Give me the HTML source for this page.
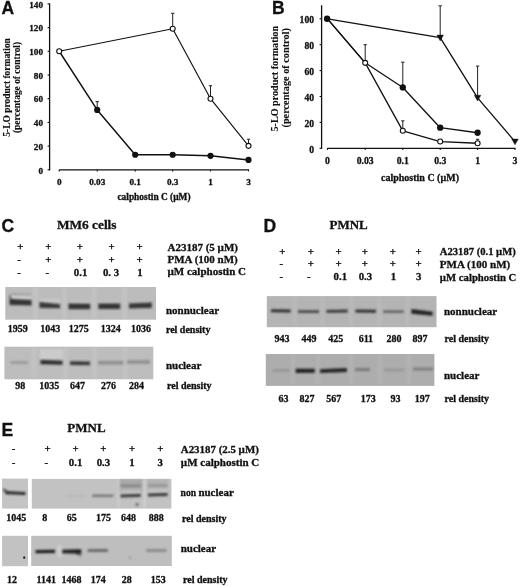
<!DOCTYPE html>
<html><head><meta charset="utf-8"><style>html,body{margin:0;padding:0;background:#fff;width:520px;height:586px;overflow:hidden}svg{display:block;will-change:transform;filter:blur(0.3px)}text{fill:#111;stroke:#111;stroke-width:0.3px}</style></head>
<body><svg width="520" height="586" viewBox="0 0 520 586"><defs><filter id="b5" x="-30%" y="-100%" width="160%" height="300%"><feGaussianBlur stdDeviation="0.5"/></filter><filter id="b6" x="-30%" y="-100%" width="160%" height="300%"><feGaussianBlur stdDeviation="0.6"/></filter><filter id="b7" x="-30%" y="-100%" width="160%" height="300%"><feGaussianBlur stdDeviation="0.7"/></filter><filter id="b8" x="-30%" y="-100%" width="160%" height="300%"><feGaussianBlur stdDeviation="0.8"/></filter><filter id="b9" x="-30%" y="-100%" width="160%" height="300%"><feGaussianBlur stdDeviation="0.9"/></filter><filter id="b10" x="-30%" y="-100%" width="160%" height="300%"><feGaussianBlur stdDeviation="1.0"/></filter><filter id="b12" x="-30%" y="-100%" width="160%" height="300%"><feGaussianBlur stdDeviation="1.2"/></filter><filter id="b15" x="-30%" y="-100%" width="160%" height="300%"><feGaussianBlur stdDeviation="1.5"/></filter><filter id="b20" x="-30%" y="-100%" width="160%" height="300%"><feGaussianBlur stdDeviation="2.0"/></filter></defs><rect width="520" height="586" fill="#fff"/><text x="1.5" y="13.8" font-size="17.5" text-anchor="start" font-family='"Liberation Sans", sans-serif' font-weight="bold" >A</text>
<line x1="49.6" y1="3.5" x2="49.6" y2="170.4" stroke="#111" stroke-width="1.3"/>
<line x1="47.6" y1="169.8" x2="49.6" y2="169.8" stroke="#111" stroke-width="1.1"/>
<text x="43" y="173.60000000000002" font-size="9.2" text-anchor="end" font-family='"Liberation Serif", serif' font-weight="bold" >0</text>
<line x1="47.6" y1="146.09285714285716" x2="49.6" y2="146.09285714285716" stroke="#111" stroke-width="1.1"/>
<text x="43" y="149.89285714285717" font-size="9.2" text-anchor="end" font-family='"Liberation Serif", serif' font-weight="bold" >20</text>
<line x1="47.6" y1="122.3857142857143" x2="49.6" y2="122.3857142857143" stroke="#111" stroke-width="1.1"/>
<text x="43" y="126.1857142857143" font-size="9.2" text-anchor="end" font-family='"Liberation Serif", serif' font-weight="bold" >40</text>
<line x1="47.6" y1="98.67857142857143" x2="49.6" y2="98.67857142857143" stroke="#111" stroke-width="1.1"/>
<text x="43" y="102.47857142857143" font-size="9.2" text-anchor="end" font-family='"Liberation Serif", serif' font-weight="bold" >60</text>
<line x1="47.6" y1="74.97142857142858" x2="49.6" y2="74.97142857142858" stroke="#111" stroke-width="1.1"/>
<text x="43" y="78.77142857142857" font-size="9.2" text-anchor="end" font-family='"Liberation Serif", serif' font-weight="bold" >80</text>
<line x1="47.6" y1="51.264285714285705" x2="49.6" y2="51.264285714285705" stroke="#111" stroke-width="1.1"/>
<text x="43" y="55.0642857142857" font-size="9.2" text-anchor="end" font-family='"Liberation Serif", serif' font-weight="bold" >100</text>
<line x1="47.6" y1="27.55714285714285" x2="49.6" y2="27.55714285714285" stroke="#111" stroke-width="1.1"/>
<text x="43" y="31.35714285714285" font-size="9.2" text-anchor="end" font-family='"Liberation Serif", serif' font-weight="bold" >120</text>
<line x1="47.6" y1="3.8499999999999943" x2="49.6" y2="3.8499999999999943" stroke="#111" stroke-width="1.1"/>
<text x="43" y="7.649999999999994" font-size="9.2" text-anchor="end" font-family='"Liberation Serif", serif' font-weight="bold" >140</text>
<line x1="59.2" y1="169.8" x2="249" y2="169.8" stroke="#111" stroke-width="1.3"/>
<line x1="59.2" y1="169.8" x2="59.2" y2="171.4" stroke="#111" stroke-width="1.1"/>
<text x="59.2" y="185" font-size="9.2" text-anchor="middle" font-family='"Liberation Serif", serif' font-weight="bold" >0</text>
<line x1="97.2" y1="169.8" x2="97.2" y2="171.4" stroke="#111" stroke-width="1.1"/>
<text x="97.2" y="185" font-size="9.2" text-anchor="middle" font-family='"Liberation Serif", serif' font-weight="bold" >0.03</text>
<line x1="135.2" y1="169.8" x2="135.2" y2="171.4" stroke="#111" stroke-width="1.1"/>
<text x="135.2" y="185" font-size="9.2" text-anchor="middle" font-family='"Liberation Serif", serif' font-weight="bold" >0.1</text>
<line x1="172.7" y1="169.8" x2="172.7" y2="171.4" stroke="#111" stroke-width="1.1"/>
<text x="172.7" y="185" font-size="9.2" text-anchor="middle" font-family='"Liberation Serif", serif' font-weight="bold" >0.3</text>
<line x1="210.5" y1="169.8" x2="210.5" y2="171.4" stroke="#111" stroke-width="1.1"/>
<text x="210.5" y="185" font-size="9.2" text-anchor="middle" font-family='"Liberation Serif", serif' font-weight="bold" >1</text>
<line x1="248.5" y1="169.8" x2="248.5" y2="171.4" stroke="#111" stroke-width="1.1"/>
<text x="248.5" y="185" font-size="9.2" text-anchor="middle" font-family='"Liberation Serif", serif' font-weight="bold" >3</text>
<text x="154" y="200.3" font-size="9.4" text-anchor="middle" font-family='"Liberation Serif", serif' font-weight="bold" >calphostin C (µM)</text>
<text x="0" y="0" font-size="9.46" text-anchor="middle" font-family='"Liberation Serif", serif' font-weight="bold" style="stroke-width:0.12px" transform="translate(10.2,87.4) rotate(-90)">5-LO product formation</text>
<text x="0" y="0" font-size="9.44" text-anchor="middle" font-family='"Liberation Serif", serif' font-weight="bold" style="stroke-width:0.12px" transform="translate(20.2,87.5) rotate(-90)">(percentage of control)</text>
<line x1="172.7" y1="28.742500000000007" x2="172.7" y2="13.3" stroke="#222" stroke-width="1.0"/>
<line x1="171.0" y1="13.3" x2="174.39999999999998" y2="13.3" stroke="#222" stroke-width="1.0"/>
<line x1="210.5" y1="98.67857142857143" x2="210.5" y2="85.75817857142857" stroke="#222" stroke-width="1.0"/>
<line x1="208.8" y1="85.75817857142857" x2="212.2" y2="85.75817857142857" stroke="#222" stroke-width="1.0"/>
<line x1="248.5" y1="145.85578571428573" x2="248.5" y2="139.21778571428572" stroke="#222" stroke-width="1.0"/>
<line x1="246.8" y1="139.21778571428572" x2="250.2" y2="139.21778571428572" stroke="#222" stroke-width="1.0"/>
<line x1="97.2" y1="109.34678571428572" x2="97.2" y2="101.6419642857143" stroke="#222" stroke-width="1.0"/>
<line x1="95.5" y1="101.6419642857143" x2="98.9" y2="101.6419642857143" stroke="#222" stroke-width="1.0"/>
<polyline points="59.20,51.26 172.70,28.74 210.50,98.68 248.50,145.86" fill="none" stroke="#111" stroke-width="1.15" stroke-linejoin="round"/>
<polyline points="59.20,51.26 97.20,109.94 135.20,154.75 172.70,154.75 210.50,155.81 248.50,159.96" fill="none" stroke="#111" stroke-width="1.45" stroke-linejoin="round"/>
<circle cx="97.20" cy="109.94" r="3.1" fill="#111"/>
<circle cx="135.20" cy="154.75" r="3.1" fill="#111"/>
<circle cx="172.70" cy="154.75" r="3.1" fill="#111"/>
<circle cx="210.50" cy="155.81" r="3.1" fill="#111"/>
<circle cx="248.50" cy="159.96" r="3.1" fill="#111"/>
<circle cx="59.20" cy="51.26" r="2.5" fill="#fff" stroke="#111" stroke-width="1.1"/>
<circle cx="172.70" cy="28.74" r="2.5" fill="#fff" stroke="#111" stroke-width="1.1"/>
<circle cx="210.50" cy="98.68" r="2.5" fill="#fff" stroke="#111" stroke-width="1.1"/>
<circle cx="248.50" cy="145.86" r="2.5" fill="#fff" stroke="#111" stroke-width="1.1"/>
<text x="272.1" y="13.8" font-size="17.5" text-anchor="start" font-family='"Liberation Sans", sans-serif' font-weight="bold" >B</text>
<line x1="321.6" y1="5.2" x2="321.6" y2="148.9" stroke="#111" stroke-width="1.3"/>
<line x1="319.6" y1="148.3" x2="321.6" y2="148.3" stroke="#111" stroke-width="1.1"/>
<text x="314" y="152.5" font-size="9.6" text-anchor="end" font-family='"Liberation Serif", serif' font-weight="bold" >0</text>
<line x1="319.6" y1="122.4" x2="321.6" y2="122.4" stroke="#111" stroke-width="1.1"/>
<text x="314" y="126.60000000000001" font-size="9.6" text-anchor="end" font-family='"Liberation Serif", serif' font-weight="bold" >20</text>
<line x1="319.6" y1="96.50000000000001" x2="321.6" y2="96.50000000000001" stroke="#111" stroke-width="1.1"/>
<text x="314" y="100.70000000000002" font-size="9.6" text-anchor="end" font-family='"Liberation Serif", serif' font-weight="bold" >40</text>
<line x1="319.6" y1="70.60000000000002" x2="321.6" y2="70.60000000000002" stroke="#111" stroke-width="1.1"/>
<text x="314" y="74.80000000000003" font-size="9.6" text-anchor="end" font-family='"Liberation Serif", serif' font-weight="bold" >60</text>
<line x1="319.6" y1="44.70000000000002" x2="321.6" y2="44.70000000000002" stroke="#111" stroke-width="1.1"/>
<text x="314" y="48.90000000000002" font-size="9.6" text-anchor="end" font-family='"Liberation Serif", serif' font-weight="bold" >80</text>
<line x1="319.6" y1="18.80000000000001" x2="321.6" y2="18.80000000000001" stroke="#111" stroke-width="1.1"/>
<text x="314" y="23.00000000000001" font-size="9.6" text-anchor="end" font-family='"Liberation Serif", serif' font-weight="bold" >100</text>
<line x1="327.2" y1="148.3" x2="515.5" y2="148.3" stroke="#111" stroke-width="1.3"/>
<line x1="327.5" y1="148.3" x2="327.5" y2="149.9" stroke="#111" stroke-width="1.1"/>
<text x="327.5" y="164.4" font-size="9.7" text-anchor="middle" font-family='"Liberation Serif", serif' font-weight="bold" >0</text>
<line x1="365.2" y1="148.3" x2="365.2" y2="149.9" stroke="#111" stroke-width="1.1"/>
<text x="365.2" y="164.4" font-size="9.7" text-anchor="middle" font-family='"Liberation Serif", serif' font-weight="bold" >0.03</text>
<line x1="402.8" y1="148.3" x2="402.8" y2="149.9" stroke="#111" stroke-width="1.1"/>
<text x="402.8" y="164.4" font-size="9.7" text-anchor="middle" font-family='"Liberation Serif", serif' font-weight="bold" >0.1</text>
<line x1="440.2" y1="148.3" x2="440.2" y2="149.9" stroke="#111" stroke-width="1.1"/>
<text x="440.2" y="164.4" font-size="9.7" text-anchor="middle" font-family='"Liberation Serif", serif' font-weight="bold" >0.3</text>
<line x1="477.6" y1="148.3" x2="477.6" y2="149.9" stroke="#111" stroke-width="1.1"/>
<text x="477.6" y="164.4" font-size="9.7" text-anchor="middle" font-family='"Liberation Serif", serif' font-weight="bold" >1</text>
<line x1="515" y1="148.3" x2="515" y2="149.9" stroke="#111" stroke-width="1.1"/>
<text x="515" y="164.4" font-size="9.7" text-anchor="middle" font-family='"Liberation Serif", serif' font-weight="bold" >3</text>
<text x="420" y="181" font-size="10" text-anchor="middle" font-family='"Liberation Serif", serif' font-weight="bold" >calphostin C (µM)</text>
<text x="0" y="0" font-size="10.13" text-anchor="middle" font-family='"Liberation Serif", serif' font-weight="bold" style="stroke-width:0.12px" transform="translate(277.7,78.75) rotate(-90)">5-LO product formation</text>
<text x="0" y="0" font-size="10.27" text-anchor="middle" font-family='"Liberation Serif", serif' font-weight="bold" style="stroke-width:0.12px" transform="translate(289.3,77.8) rotate(-90)">(percentage of control)</text>
<line x1="440.2" y1="37.577500000000015" x2="440.2" y2="5.850000000000023" stroke="#222" stroke-width="1.0"/>
<line x1="438.5" y1="5.850000000000023" x2="441.9" y2="5.850000000000023" stroke="#222" stroke-width="1.0"/>
<line x1="477.6" y1="97.79500000000002" x2="477.6" y2="66.06750000000001" stroke="#222" stroke-width="1.0"/>
<line x1="475.90000000000003" y1="66.06750000000001" x2="479.3" y2="66.06750000000001" stroke="#222" stroke-width="1.0"/>
<line x1="402.8" y1="87.43500000000002" x2="402.8" y2="62.18250000000002" stroke="#222" stroke-width="1.0"/>
<line x1="401.1" y1="62.18250000000002" x2="404.5" y2="62.18250000000002" stroke="#222" stroke-width="1.0"/>
<line x1="365.2" y1="62.83000000000001" x2="365.2" y2="44.70000000000002" stroke="#222" stroke-width="1.0"/>
<line x1="363.5" y1="44.70000000000002" x2="366.9" y2="44.70000000000002" stroke="#222" stroke-width="1.0"/>
<line x1="402.8" y1="130.81750000000002" x2="402.8" y2="120.84600000000002" stroke="#222" stroke-width="1.0"/>
<line x1="401.1" y1="120.84600000000002" x2="404.5" y2="120.84600000000002" stroke="#222" stroke-width="1.0"/>
<line x1="477.6" y1="143.2495" x2="477.6" y2="139.235" stroke="#222" stroke-width="1.0"/>
<line x1="475.90000000000003" y1="139.235" x2="479.3" y2="139.235" stroke="#222" stroke-width="1.0"/>
<polyline points="327.50,18.80 440.20,37.58 477.60,97.80 515.00,141.57" fill="none" stroke="#111" stroke-width="1.3" stroke-linejoin="round"/>
<polyline points="327.50,18.80 365.20,62.83 402.80,87.44 440.20,127.71 477.60,132.76" fill="none" stroke="#111" stroke-width="1.3" stroke-linejoin="round"/>
<polyline points="327.50,18.80 365.20,62.83 402.80,130.82 440.20,141.57 477.60,143.25" fill="none" stroke="#111" stroke-width="1.3" stroke-linejoin="round"/>
<polygon points="436.90,35.08 443.50,35.08 440.20,40.88" fill="#111" stroke="#111" stroke-width="0.4" stroke-linejoin="round"/>
<polygon points="474.30,95.30 480.90,95.30 477.60,101.10" fill="#111" stroke="#111" stroke-width="0.4" stroke-linejoin="round"/>
<polygon points="511.70,139.07 518.30,139.07 515.00,144.87" fill="#111" stroke="#111" stroke-width="0.4" stroke-linejoin="round"/>
<circle cx="402.80" cy="87.44" r="3.15" fill="#111"/>
<circle cx="440.20" cy="127.71" r="3.15" fill="#111"/>
<circle cx="477.60" cy="132.76" r="3.15" fill="#111"/>
<circle cx="327.10" cy="18.80" r="3.2" fill="#111"/>
<circle cx="365.20" cy="62.83" r="2.5" fill="#fff" stroke="#111" stroke-width="1.1"/>
<circle cx="402.80" cy="130.82" r="2.5" fill="#fff" stroke="#111" stroke-width="1.1"/>
<circle cx="440.20" cy="141.57" r="2.5" fill="#fff" stroke="#111" stroke-width="1.1"/>
<circle cx="477.60" cy="143.25" r="2.5" fill="#fff" stroke="#111" stroke-width="1.1"/>
<text x="1.5" y="231.5" font-size="17.5" text-anchor="start" font-family='"Liberation Sans", sans-serif' font-weight="bold" >C</text>
<text x="56.9" y="229.4" font-size="13.2" text-anchor="start" font-family='"Liberation Serif", serif' font-weight="bold" textLength="59.6" lengthAdjust="spacingAndGlyphs">MM6 cells</text>
<text x="20.3" y="250.3" font-size="10.8" text-anchor="middle" font-family='"Liberation Serif", serif' font-weight="bold" >+</text>
<text x="48.4" y="250.3" font-size="10.8" text-anchor="middle" font-family='"Liberation Serif", serif' font-weight="bold" >+</text>
<text x="79.8" y="250.3" font-size="10.8" text-anchor="middle" font-family='"Liberation Serif", serif' font-weight="bold" >+</text>
<text x="111.5" y="250.3" font-size="10.8" text-anchor="middle" font-family='"Liberation Serif", serif' font-weight="bold" >+</text>
<text x="139.7" y="250.3" font-size="10.8" text-anchor="middle" font-family='"Liberation Serif", serif' font-weight="bold" >+</text>
<text x="19.1" y="263" font-size="10.8" text-anchor="middle" font-family='"Liberation Serif", serif' font-weight="bold" >-</text>
<text x="48.4" y="263" font-size="10.8" text-anchor="middle" font-family='"Liberation Serif", serif' font-weight="bold" >+</text>
<text x="79.8" y="263" font-size="10.8" text-anchor="middle" font-family='"Liberation Serif", serif' font-weight="bold" >+</text>
<text x="111.5" y="263" font-size="10.8" text-anchor="middle" font-family='"Liberation Serif", serif' font-weight="bold" >+</text>
<text x="139.7" y="263" font-size="10.8" text-anchor="middle" font-family='"Liberation Serif", serif' font-weight="bold" >+</text>
<text x="19.1" y="275.8" font-size="10.8" text-anchor="middle" font-family='"Liberation Serif", serif' font-weight="bold" >-</text>
<text x="47.199999999999996" y="275.8" font-size="10.8" text-anchor="middle" font-family='"Liberation Serif", serif' font-weight="bold" >-</text>
<text x="80.6" y="275.8" font-size="10.8" text-anchor="middle" font-family='"Liberation Serif", serif' font-weight="bold" >0.1</text>
<text x="111" y="275.8" font-size="10.8" text-anchor="middle" font-family='"Liberation Serif", serif' font-weight="bold" >0. 3</text>
<text x="140" y="275.8" font-size="10.8" text-anchor="middle" font-family='"Liberation Serif", serif' font-weight="bold" >1</text>
<text x="167.5" y="251.3" font-size="11" text-anchor="start" font-family='"Liberation Serif", serif' font-weight="bold" >A23187 (5 µM)</text>
<text x="167.5" y="262.6" font-size="11" text-anchor="start" font-family='"Liberation Serif", serif' font-weight="bold" >PMA (100 nM)</text>
<text x="167.5" y="275" font-size="11" text-anchor="start" font-family='"Liberation Serif", serif' font-weight="bold" >µM calphostin C</text>
<rect x="5.3" y="287.0" width="150.7" height="32.7" fill="#bcbcbc"/>
<rect x="33.50" y="287.00" width="4.00" height="32.00" fill="#fff" opacity="0.12" filter="url(#b15)"/>
<rect x="62.50" y="287.00" width="4.00" height="32.00" fill="#fff" opacity="0.12" filter="url(#b15)"/>
<rect x="92.00" y="287.00" width="4.00" height="32.00" fill="#fff" opacity="0.12" filter="url(#b15)"/>
<rect x="122.50" y="287.00" width="4.00" height="32.00" fill="#fff" opacity="0.12" filter="url(#b15)"/>
<rect x="11.00" y="295.50" width="20.00" height="3.50" fill="#fff" opacity="0.25" filter="url(#b8)"/>
<rect x="40.00" y="299.00" width="20.00" height="3.50" fill="#fff" opacity="0.2" filter="url(#b8)"/>
<rect x="69.00" y="301.00" width="21.00" height="3.00" fill="#fff" opacity="0.12" filter="url(#b8)"/>
<rect x="99.00" y="301.00" width="21.00" height="3.00" fill="#fff" opacity="0.1" filter="url(#b8)"/>
<polygon points="11.00,293.60 31.00,294.30 31.00,295.30 11.00,294.80" fill="#1c1c1c" opacity="0.3" filter="url(#b8)"/>
<polygon points="9.50,298.90 31.50,300.00 31.50,305.60 9.50,305.10" fill="#202020" opacity="0.88" filter="url(#b8)"/>
<polygon points="9.00,294.50 11.50,298.25 11.50,300.75 9.00,296.50" fill="#1c1c1c" opacity="0.75" filter="url(#b8)"/>
<polygon points="39.50,301.90 60.00,304.30 60.00,308.30 39.50,308.10" fill="#202020" opacity="0.85" filter="url(#b8)"/>
<polygon points="68.50,303.50 90.20,303.70 90.20,309.30 68.50,309.30" fill="#202020" opacity="0.88" filter="url(#b8)"/>
<polygon points="98.40,303.40 120.20,303.60 120.20,309.00 98.40,309.00" fill="#202020" opacity="0.88" filter="url(#b8)"/>
<polygon points="129.00,303.40 151.80,302.40 151.80,308.00 129.00,308.60" fill="#202020" opacity="0.86" filter="url(#b8)"/>
<text x="165.9" y="313.6" font-size="11" text-anchor="start" font-family='"Liberation Serif", serif' font-weight="bold" >nonnuclear</text>
<text x="17.7" y="332.3" font-size="10" text-anchor="middle" font-family='"Liberation Serif", serif' font-weight="bold" >1959</text>
<text x="50.2" y="332.3" font-size="10" text-anchor="middle" font-family='"Liberation Serif", serif' font-weight="bold" >1043</text>
<text x="78.7" y="332.3" font-size="10" text-anchor="middle" font-family='"Liberation Serif", serif' font-weight="bold" >1275</text>
<text x="110.8" y="332.3" font-size="10" text-anchor="middle" font-family='"Liberation Serif", serif' font-weight="bold" >1324</text>
<text x="141" y="332.3" font-size="10" text-anchor="middle" font-family='"Liberation Serif", serif' font-weight="bold" >1036</text>
<text x="165.9" y="332.6" font-size="10" text-anchor="start" font-family='"Liberation Serif", serif' font-weight="bold" >rel density</text>
<rect x="4.4" y="346.7" width="148.9" height="32.6" fill="#bdbdbd"/>
<rect x="32.00" y="347.00" width="4.00" height="32.00" fill="#fff" opacity="0.1" filter="url(#b15)"/>
<rect x="63.50" y="347.00" width="4.00" height="32.00" fill="#fff" opacity="0.1" filter="url(#b15)"/>
<rect x="92.50" y="347.00" width="4.00" height="32.00" fill="#fff" opacity="0.1" filter="url(#b15)"/>
<rect x="123.00" y="347.00" width="4.00" height="32.00" fill="#fff" opacity="0.1" filter="url(#b15)"/>
<rect x="40.00" y="349.00" width="23.00" height="10.00" fill="#fff" opacity="0.22" filter="url(#b12)"/>
<polygon points="10.50,361.00 28.00,361.00 28.00,364.00 10.50,364.00" fill="#1c1c1c" opacity="0.2" filter="url(#b12)"/>
<polygon points="40.50,360.10 62.50,360.80 62.50,364.80 40.50,364.30" fill="#202020" opacity="0.92" filter="url(#b8)"/>
<polygon points="70.00,361.30 90.00,361.60 90.00,365.20 70.00,365.10" fill="#202020" opacity="0.85" filter="url(#b8)"/>
<polygon points="98.00,360.90 123.50,360.90 123.50,364.50 98.00,364.50" fill="#1c1c1c" opacity="0.28" filter="url(#b12)"/>
<polygon points="127.00,360.20 150.00,360.20 150.00,363.80 127.00,363.80" fill="#1c1c1c" opacity="0.28" filter="url(#b12)"/>
<text x="165.9" y="369.2" font-size="11" text-anchor="start" font-family='"Liberation Serif", serif' font-weight="bold" >nuclear</text>
<text x="20.2" y="388.6" font-size="10" text-anchor="middle" font-family='"Liberation Serif", serif' font-weight="bold" >98</text>
<text x="49.3" y="388.6" font-size="10" text-anchor="middle" font-family='"Liberation Serif", serif' font-weight="bold" >1035</text>
<text x="77.4" y="388.6" font-size="10" text-anchor="middle" font-family='"Liberation Serif", serif' font-weight="bold" >647</text>
<text x="108.6" y="388.6" font-size="10" text-anchor="middle" font-family='"Liberation Serif", serif' font-weight="bold" >276</text>
<text x="136.5" y="388.6" font-size="10" text-anchor="middle" font-family='"Liberation Serif", serif' font-weight="bold" >284</text>
<text x="167" y="388.6" font-size="10" text-anchor="start" font-family='"Liberation Serif", serif' font-weight="bold" >rel density</text>
<text x="263.5" y="231.5" font-size="17.5" text-anchor="start" font-family='"Liberation Sans", sans-serif' font-weight="bold" >D</text>
<text x="348.6" y="229.2" font-size="13" text-anchor="middle" font-family='"Liberation Serif", serif' font-weight="bold" >PMNL</text>
<text x="282.4" y="254.5" font-size="10.8" text-anchor="middle" font-family='"Liberation Serif", serif' font-weight="bold" >+</text>
<text x="310.9" y="254.5" font-size="10.8" text-anchor="middle" font-family='"Liberation Serif", serif' font-weight="bold" >+</text>
<text x="338.6" y="254.5" font-size="10.8" text-anchor="middle" font-family='"Liberation Serif", serif' font-weight="bold" >+</text>
<text x="364.8" y="254.5" font-size="10.8" text-anchor="middle" font-family='"Liberation Serif", serif' font-weight="bold" >+</text>
<text x="392.9" y="254.5" font-size="10.8" text-anchor="middle" font-family='"Liberation Serif", serif' font-weight="bold" >+</text>
<text x="418.7" y="254.5" font-size="10.8" text-anchor="middle" font-family='"Liberation Serif", serif' font-weight="bold" >+</text>
<text x="281.2" y="266.8" font-size="10.8" text-anchor="middle" font-family='"Liberation Serif", serif' font-weight="bold" >-</text>
<text x="310.9" y="266.8" font-size="10.8" text-anchor="middle" font-family='"Liberation Serif", serif' font-weight="bold" >+</text>
<text x="338.6" y="266.8" font-size="10.8" text-anchor="middle" font-family='"Liberation Serif", serif' font-weight="bold" >+</text>
<text x="364.8" y="266.8" font-size="10.8" text-anchor="middle" font-family='"Liberation Serif", serif' font-weight="bold" >+</text>
<text x="392.9" y="266.8" font-size="10.8" text-anchor="middle" font-family='"Liberation Serif", serif' font-weight="bold" >+</text>
<text x="418.7" y="266.8" font-size="10.8" text-anchor="middle" font-family='"Liberation Serif", serif' font-weight="bold" >+</text>
<text x="281.2" y="279.9" font-size="10.8" text-anchor="middle" font-family='"Liberation Serif", serif' font-weight="bold" >-</text>
<text x="308.7" y="279.9" font-size="10.8" text-anchor="middle" font-family='"Liberation Serif", serif' font-weight="bold" >-</text>
<text x="340.3" y="279.9" font-size="10.8" text-anchor="middle" font-family='"Liberation Serif", serif' font-weight="bold" >0.1</text>
<text x="365.4" y="279.9" font-size="10.8" text-anchor="middle" font-family='"Liberation Serif", serif' font-weight="bold" >0.3</text>
<text x="393.5" y="279.9" font-size="10.8" text-anchor="middle" font-family='"Liberation Serif", serif' font-weight="bold" >1</text>
<text x="418.7" y="279.9" font-size="10.8" text-anchor="middle" font-family='"Liberation Serif", serif' font-weight="bold" >3</text>
<text x="439.8" y="254.5" font-size="11" text-anchor="start" font-family='"Liberation Serif", serif' font-weight="bold" textLength="76" lengthAdjust="spacingAndGlyphs">A23187 (0.1 µM)</text>
<text x="439.8" y="267.8" font-size="11" text-anchor="start" font-family='"Liberation Serif", serif' font-weight="bold" textLength="70.5" lengthAdjust="spacingAndGlyphs">PMA (100 nM)</text>
<text x="439.8" y="280.8" font-size="11" text-anchor="start" font-family='"Liberation Serif", serif' font-weight="bold" textLength="76.5" lengthAdjust="spacingAndGlyphs">µM calphostin C</text>
<rect x="266.8" y="296.1" width="169.7" height="31.1" fill="#b4b4b4"/>
<rect x="292.50" y="296.50" width="4.00" height="30.00" fill="#fff" opacity="0.08" filter="url(#b15)"/>
<rect x="320.50" y="296.50" width="4.00" height="30.00" fill="#fff" opacity="0.08" filter="url(#b15)"/>
<rect x="349.00" y="296.50" width="4.00" height="30.00" fill="#fff" opacity="0.08" filter="url(#b15)"/>
<rect x="377.50" y="296.50" width="4.00" height="30.00" fill="#fff" opacity="0.08" filter="url(#b15)"/>
<rect x="405.50" y="296.50" width="4.00" height="30.00" fill="#fff" opacity="0.08" filter="url(#b15)"/>
<polygon points="271.00,309.15 290.50,309.55 290.50,312.45 271.00,312.25" fill="#202020" opacity="0.9" filter="url(#b8)"/>
<polygon points="298.00,310.35 319.00,310.35 319.00,312.85 298.00,312.85" fill="#202020" opacity="0.8" filter="url(#b8)"/>
<polygon points="326.40,310.10 347.60,309.60 347.60,312.40 326.40,312.70" fill="#202020" opacity="0.85" filter="url(#b8)"/>
<polygon points="355.50,309.45 376.00,309.65 376.00,312.75 355.50,312.55" fill="#202020" opacity="0.9" filter="url(#b8)"/>
<polygon points="383.20,310.50 403.60,310.50 403.60,312.70 383.20,312.70" fill="#202020" opacity="0.65" filter="url(#b8)"/>
<polygon points="411.40,309.10 432.70,311.80 432.70,315.80 411.40,313.70" fill="#1c1c1c" opacity="0.95" filter="url(#b8)"/>
<text x="444" y="315" font-size="11" text-anchor="start" font-family='"Liberation Serif", serif' font-weight="bold" >nonnuclear</text>
<text x="282" y="342.2" font-size="10" text-anchor="middle" font-family='"Liberation Serif", serif' font-weight="bold" >943</text>
<text x="309" y="342.2" font-size="10" text-anchor="middle" font-family='"Liberation Serif", serif' font-weight="bold" >449</text>
<text x="335.7" y="342.2" font-size="10" text-anchor="middle" font-family='"Liberation Serif", serif' font-weight="bold" >425</text>
<text x="365.9" y="342.2" font-size="10" text-anchor="middle" font-family='"Liberation Serif", serif' font-weight="bold" >611</text>
<text x="394" y="342.2" font-size="10" text-anchor="middle" font-family='"Liberation Serif", serif' font-weight="bold" >280</text>
<text x="420" y="342.2" font-size="10" text-anchor="middle" font-family='"Liberation Serif", serif' font-weight="bold" >897</text>
<text x="444.5" y="342.3" font-size="10" text-anchor="start" font-family='"Liberation Serif", serif' font-weight="bold" >rel density</text>
<rect x="265.8" y="354.0" width="168.6" height="31.9" fill="#adadad"/>
<rect x="291.00" y="354.50" width="4.00" height="30.00" fill="#fff" opacity="0.08" filter="url(#b15)"/>
<rect x="316.00" y="354.50" width="4.00" height="30.00" fill="#fff" opacity="0.08" filter="url(#b15)"/>
<rect x="349.00" y="354.50" width="4.00" height="30.00" fill="#fff" opacity="0.08" filter="url(#b15)"/>
<rect x="378.00" y="354.50" width="4.00" height="30.00" fill="#fff" opacity="0.08" filter="url(#b15)"/>
<rect x="407.00" y="354.50" width="4.00" height="30.00" fill="#fff" opacity="0.08" filter="url(#b15)"/>
<polygon points="272.40,369.10 289.70,369.10 289.70,371.90 272.40,371.90" fill="#1c1c1c" opacity="0.15" filter="url(#b12)"/>
<polygon points="295.70,368.70 314.80,368.80 314.80,372.80 295.70,372.90" fill="#1c1c1c" opacity="0.97" filter="url(#b8)"/>
<polygon points="320.00,369.30 346.80,367.90 346.80,371.90 320.00,373.10" fill="#1c1c1c" opacity="0.95" filter="url(#b8)"/>
<polygon points="355.20,368.10 370.00,368.10 370.00,371.10 355.20,371.10" fill="#1c1c1c" opacity="0.35" filter="url(#b12)"/>
<polygon points="384.00,368.70 404.00,368.70 404.00,371.30 384.00,371.30" fill="#1c1c1c" opacity="0.15" filter="url(#b12)"/>
<polygon points="413.00,367.60 433.00,367.60 433.00,370.60 413.00,370.60" fill="#1c1c1c" opacity="0.3" filter="url(#b12)"/>
<text x="444" y="379" font-size="11" text-anchor="start" font-family='"Liberation Serif", serif' font-weight="bold" >nuclear</text>
<text x="283.6" y="401.7" font-size="10" text-anchor="middle" font-family='"Liberation Serif", serif' font-weight="bold" >63</text>
<text x="307" y="401.7" font-size="10" text-anchor="middle" font-family='"Liberation Serif", serif' font-weight="bold" >827</text>
<text x="333.7" y="401.7" font-size="10" text-anchor="middle" font-family='"Liberation Serif", serif' font-weight="bold" >567</text>
<text x="368.2" y="401.7" font-size="10" text-anchor="middle" font-family='"Liberation Serif", serif' font-weight="bold" >173</text>
<text x="395.5" y="401.7" font-size="10" text-anchor="middle" font-family='"Liberation Serif", serif' font-weight="bold" >93</text>
<text x="422.3" y="401.7" font-size="10" text-anchor="middle" font-family='"Liberation Serif", serif' font-weight="bold" >197</text>
<text x="444.5" y="402.3" font-size="10" text-anchor="start" font-family='"Liberation Serif", serif' font-weight="bold" >rel density</text>
<text x="1.5" y="435.5" font-size="17.5" text-anchor="start" font-family='"Liberation Sans", sans-serif' font-weight="bold" >E</text>
<text x="86.5" y="432" font-size="13" text-anchor="middle" font-family='"Liberation Serif", serif' font-weight="bold" >PMNL</text>
<text x="13.600000000000001" y="452" font-size="10.8" text-anchor="middle" font-family='"Liberation Serif", serif' font-weight="bold" >-</text>
<text x="47.6" y="452" font-size="10.8" text-anchor="middle" font-family='"Liberation Serif", serif' font-weight="bold" >+</text>
<text x="75.6" y="452" font-size="10.8" text-anchor="middle" font-family='"Liberation Serif", serif' font-weight="bold" >+</text>
<text x="103.4" y="452" font-size="10.8" text-anchor="middle" font-family='"Liberation Serif", serif' font-weight="bold" >+</text>
<text x="132" y="452" font-size="10.8" text-anchor="middle" font-family='"Liberation Serif", serif' font-weight="bold" >+</text>
<text x="160.3" y="452" font-size="10.8" text-anchor="middle" font-family='"Liberation Serif", serif' font-weight="bold" >+</text>
<text x="13.600000000000001" y="465.7" font-size="10.8" text-anchor="middle" font-family='"Liberation Serif", serif' font-weight="bold" >-</text>
<text x="46.4" y="465.7" font-size="10.8" text-anchor="middle" font-family='"Liberation Serif", serif' font-weight="bold" >-</text>
<text x="75.6" y="465.7" font-size="10.8" text-anchor="middle" font-family='"Liberation Serif", serif' font-weight="bold" >0.1</text>
<text x="103.4" y="465.7" font-size="10.8" text-anchor="middle" font-family='"Liberation Serif", serif' font-weight="bold" >0.3</text>
<text x="132" y="465.7" font-size="10.8" text-anchor="middle" font-family='"Liberation Serif", serif' font-weight="bold" >1</text>
<text x="160.3" y="465.7" font-size="10.8" text-anchor="middle" font-family='"Liberation Serif", serif' font-weight="bold" >3</text>
<text x="180.8" y="453.2" font-size="11" text-anchor="start" font-family='"Liberation Serif", serif' font-weight="bold" textLength="78" lengthAdjust="spacingAndGlyphs">A23187 (2.5 µM)</text>
<text x="180.8" y="466.2" font-size="11" text-anchor="start" font-family='"Liberation Serif", serif' font-weight="bold" >µM calphostin C</text>
<rect x="2.1" y="478.6" width="25.9" height="30.0" fill="#c4c4c4"/>
<rect x="31.8" y="478.9" width="139.6" height="29.7" fill="#c2c2c2"/>
<polygon points="6.00,490.90 25.50,491.90 25.50,495.10 6.00,494.30" fill="#202020" opacity="0.92" filter="url(#b8)"/>
<polygon points="3.50,488.30 7.00,490.80 7.00,494.00 3.50,490.90" fill="#202020" opacity="0.85" filter="url(#b8)"/>
<polygon points="119.50,478.95 142.00,478.95 142.00,479.05 119.50,479.05" fill="#1c1c1c" opacity="0" filter="url(#b8)"/>
<rect x="119.5" y="479" width="23" height="13" fill="#000" opacity="0.12" filter="url(#b10)"/>
<rect x="147" y="479" width="21" height="12" fill="#000" opacity="0.07" filter="url(#b10)"/>
<rect x="143.00" y="479.00" width="3.00" height="30.00" fill="#fff" opacity="0.2" filter="url(#b10)"/>
<rect x="121.00" y="489.00" width="20.00" height="4.00" fill="#fff" opacity="0.18" filter="url(#b8)"/>
<rect x="148.00" y="488.50" width="20.00" height="4.00" fill="#fff" opacity="0.15" filter="url(#b8)"/>
<rect x="117.50" y="479.00" width="2.50" height="30.00" fill="#fff" opacity="0.15" filter="url(#b10)"/>
<polygon points="92.30,494.70 113.30,494.70 113.30,496.90 92.30,496.90" fill="#1c1c1c" opacity="0.5" filter="url(#b8)"/>
<polygon points="66.00,494.90 86.00,494.90 86.00,497.10 66.00,497.10" fill="#1c1c1c" opacity="0.06" filter="url(#b10)"/>
<polygon points="120.60,494.40 140.80,494.00 140.80,496.80 120.60,497.40" fill="#202020" opacity="0.85" filter="url(#b8)"/>
<polygon points="120.60,484.70 140.80,484.70 140.80,486.90 120.60,486.90" fill="#1c1c1c" opacity="0.28" filter="url(#b10)"/>
<polygon points="148.00,493.40 167.60,493.10 167.60,496.10 148.00,496.40" fill="#202020" opacity="0.85" filter="url(#b8)"/>
<polygon points="148.00,484.50 167.60,484.50 167.60,486.70 148.00,486.70" fill="#1c1c1c" opacity="0.22" filter="url(#b10)"/>
<rect x="135.50" y="503.50" width="3.00" height="2.00" rx="1.00" fill="#222" opacity="0.8" filter="url(#b10)"/>
<text x="180.5" y="496" font-size="11" text-anchor="start" font-family='"Liberation Serif", serif' font-weight="bold" textLength="15.6" lengthAdjust="spacingAndGlyphs">non</text>
<text x="198.4" y="496" font-size="11" text-anchor="start" font-family='"Liberation Serif", serif' font-weight="bold" textLength="35.4" lengthAdjust="spacingAndGlyphs">nuclear</text>
<text x="16.3" y="521.0" font-size="10" text-anchor="middle" font-family='"Liberation Serif", serif' font-weight="bold" >1045</text>
<text x="44.7" y="521.0" font-size="10" text-anchor="middle" font-family='"Liberation Serif", serif' font-weight="bold" >8</text>
<text x="71.8" y="521.0" font-size="10" text-anchor="middle" font-family='"Liberation Serif", serif' font-weight="bold" >65</text>
<text x="103.5" y="521.0" font-size="10" text-anchor="middle" font-family='"Liberation Serif", serif' font-weight="bold" >175</text>
<text x="128.5" y="521.0" font-size="10" text-anchor="middle" font-family='"Liberation Serif", serif' font-weight="bold" >648</text>
<text x="156.2" y="521.0" font-size="10" text-anchor="middle" font-family='"Liberation Serif", serif' font-weight="bold" >888</text>
<text x="182" y="521.5" font-size="10" text-anchor="start" font-family='"Liberation Serif", serif' font-weight="bold" >rel density</text>
<rect x="2.1" y="535.8" width="25.9" height="30.4" fill="#c2c2c2"/>
<rect x="31.2" y="535.8" width="140.6" height="30.2" fill="#bebebe"/>
<rect x="23.10" y="556.60" width="2.20" height="2.20" rx="1.10" fill="#111" opacity="1.0" filter="url(#b5)"/>
<rect x="57.50" y="545.00" width="4.00" height="12.00" fill="#fff" opacity="0.25" filter="url(#b10)"/>
<polygon points="35.50,550.05 55.00,549.65 55.00,552.95 35.50,553.35" fill="#181818" opacity="0.95" filter="url(#b8)"/>
<polygon points="62.30,549.70 81.30,549.20 81.30,553.80 62.30,553.30" fill="#181818" opacity="0.95" filter="url(#b8)"/>
<polygon points="76.00,551.00 81.00,553.50 81.00,556.50 76.00,554.00" fill="#1c1c1c" opacity="0.5" filter="url(#b8)"/>
<polygon points="87.70,549.00 107.90,549.00 107.90,552.00 87.70,552.00" fill="#1c1c1c" opacity="0.5" filter="url(#b10)"/>
<polygon points="146.20,549.00 166.40,549.00 166.40,552.00 146.20,552.00" fill="#1c1c1c" opacity="0.3" filter="url(#b12)"/>
<rect x="128.80" y="556.40" width="2.00" height="2.00" rx="1.00" fill="#222" opacity="0.4" filter="url(#b10)"/>
<text x="180.7" y="551.9" font-size="11" text-anchor="start" font-family='"Liberation Serif", serif' font-weight="bold" >nuclear</text>
<text x="12.1" y="582.8" font-size="10" text-anchor="middle" font-family='"Liberation Serif", serif' font-weight="bold" >12</text>
<text x="46.3" y="582.8" font-size="10" text-anchor="middle" font-family='"Liberation Serif", serif' font-weight="bold" >1141</text>
<text x="71.4" y="582.8" font-size="10" text-anchor="middle" font-family='"Liberation Serif", serif' font-weight="bold" >1468</text>
<text x="98.3" y="582.8" font-size="10" text-anchor="middle" font-family='"Liberation Serif", serif' font-weight="bold" >174</text>
<text x="126.8" y="582.8" font-size="10" text-anchor="middle" font-family='"Liberation Serif", serif' font-weight="bold" >28</text>
<text x="158.3" y="582.8" font-size="10" text-anchor="middle" font-family='"Liberation Serif", serif' font-weight="bold" >153</text>
<text x="183" y="582.6" font-size="10" text-anchor="start" font-family='"Liberation Serif", serif' font-weight="bold" >rel density</text></svg></body></html>
